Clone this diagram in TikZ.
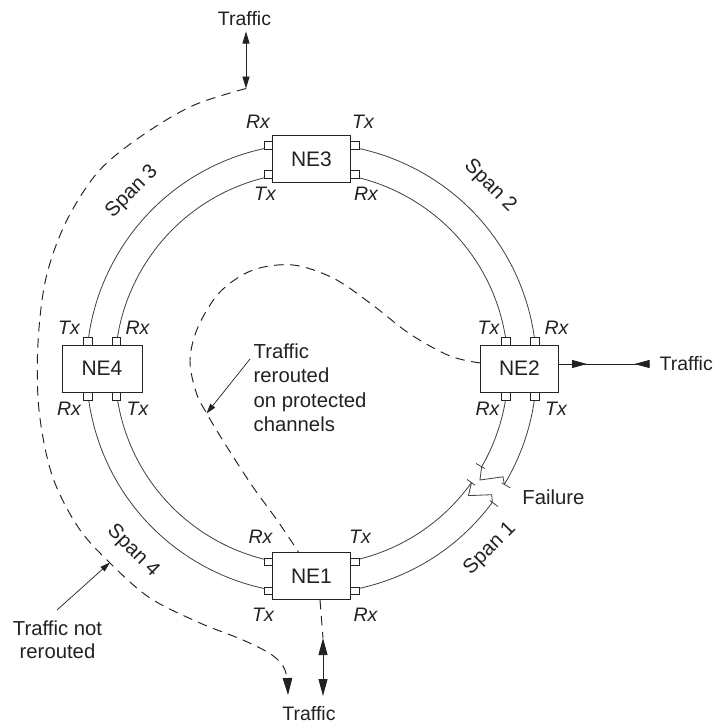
\documentclass[tikz,border=0pt]{standalone}
\usepackage{fontspec}
\setmainfont{Liberation Sans}
\usetikzlibrary{arrows.meta,calc}
\definecolor{ink}{HTML}{222222}
\definecolor{wire}{HTML}{404040}
\begin{document}
\begin{tikzpicture}[x=1pt,y=-1pt,
  lbl/.style={text=ink,inner sep=0pt,font=\fontsize{20.3}{24.5}\selectfont},
  trf/.style={text=ink,inner sep=0pt,font=\fontsize{19.5}{24}\selectfont},
  io/.style={text=ink,inner sep=0pt,font=\fontsize{19.5}{22}\selectfont\itshape},
  ne/.style={draw=ink,line width=1pt,fill=white,minimum width=78pt,minimum height=47pt,inner sep=0pt,text=ink,font=\fontsize{21}{24}\selectfont},
  nev/.style={ne,minimum width=80pt},
  port/.style={draw=ink,line width=0.8pt,fill=white,minimum width=8.5pt,minimum height=7.5pt,inner sep=0pt},
  vport/.style={port,minimum width=8.5pt,minimum height=8pt},
  ring/.style={draw=wire,line width=0.8pt},
  dline/.style={draw=ink,line width=0.95pt,dash pattern=on 9.5pt off 6.5pt},
  arr/.style={draw=ink,line width=0.9pt},
]
\useasboundingbox (0,0) rectangle (713,724);
\fill[white] (0,0) rectangle (713,724);
\coordinate (C) at (311.5,368.5);

% rings with the break
\draw[ring] ($(C)+(-30:196.5pt)$) arc[start angle=-30,end angle=324.5,radius=196.5pt];
\draw[ring] ($(C)+(-31:225pt)$) arc[start angle=-31,end angle=323.5,radius=225pt];
\draw[ring] ($(C)+(-30:196.5pt)$) -- ($(C)+(-33.5:202pt)$) -- ($(C)+(-29.5:220pt)$) -- ($(C)+(-31:225pt)$);
\draw[ring] ($(C)+(-35.5:196.5pt)$) -- ($(C)+(-39:202pt)$) -- ($(C)+(-35:220pt)$) -- ($(C)+(-36.5:225pt)$);
\draw[ring] ($(C)+(-30:190pt)$) -- ($(C)+(-30:200pt)$);
\draw[ring] ($(C)+(-35.5:191pt)$) -- ($(C)+(-35.5:201pt)$);
\draw[ring] ($(C)+(-31:222pt)$) -- ($(C)+(-31:232pt)$);
\draw[ring] ($(C)+(-36.5:222pt)$) -- ($(C)+(-36.5:232pt)$);

% coordinates for traffic paths
\coordinate (ta1) at (246,31.5);
\coordinate (ta2) at (246,88.5);
\coordinate (tb) at (288,695);
\coordinate (r0) at (480.5,363);
\coordinate (r1) at (298.5,552);
\coordinate (n1b) at (320,600);
\coordinate (ba1) at (323,638);
\coordinate (ba2) at (323,696);
\coordinate (q1) at (558.5,364);
\coordinate (q2) at (650,364);
\coordinate (qa) at (587,364);
\coordinate (qb) at (634.5,364);
\coordinate (an1s) at (250,359);
\coordinate (an1e) at (206.5,413.5);
\coordinate (an2s) at (57,610);
\coordinate (an2e) at (110,562.5);

% traffic not rerouted (outer dashed path)
\draw[dline,-{Triangle[length=17pt,width=9.5pt]}] plot[smooth,tension=0.55] coordinates {(ta2) (192,106) (140,137) (98,172) (66,222) (46,278) (38,343) (39,410) (52,475) (78,527) (110,563) (150,598) (200,623) (243,640) (272,655) (285,670) (tb)};
% rerouted traffic
\draw[dline] plot[smooth,tension=0.55] coordinates {(r0) (450,356) (410,334) (370,303) (333,278) (293,265) (253,270) (220,292) (198,327) (190,360) (196,392) (207,414) (227,447) (253,487) (277,520) (r1)};
\draw[dline] (n1b) -- (ba1);

% traffic arrows
\draw[arr,{Triangle[length=12pt,width=7pt]}-{Triangle[length=12pt,width=7pt]}] (ta1) -- (ta2);
\draw[arr,{Triangle[length=17pt,width=9pt]}-{Triangle[length=17pt,width=9pt]}] (ba1) -- (ba2);
\draw[arr] (q1) -- (q2);
\draw[arr,-{Triangle[length=15pt,width=8pt]}] (q1) -- (qa);
\draw[arr,-{Triangle[length=15pt,width=8pt]}] (q2) -- (qb);

% annotation arrows
\draw[arr,line width=0.7pt,-{Triangle[length=10pt,width=6pt]}] (an1s) -- (an1e);
\draw[arr,line width=0.7pt,-{Triangle[length=10pt,width=6pt]}] (an2s) -- (an2e);

% network elements
\node[ne] (NE3) at (311.5,159) {NE3};
\node[nev] (NE4) at (102,368.5) {NE4};
\node[ne] (NE2) at (519.5,368.5) {NE2};
\node[ne] (NE1) at (311.5,576) {NE1};

% ports
\node[port] (p3a) at (268.25,145.5) {};
\node[port] (p3b) at (268.25,174.5) {};
\node[port] (p3c) at (354.75,145.5) {};
\node[port] (p3d) at (354.75,174.5) {};
\node[port] (p1a) at (268.25,562) {};
\node[port] (p1b) at (268.25,591) {};
\node[port] (p1c) at (354.75,562) {};
\node[port] (p1d) at (354.75,591) {};
\node[vport] (p4a) at (88,341) {};
\node[vport] (p4b) at (116.5,341) {};
\node[vport] (p4c) at (88,396) {};
\node[vport] (p4d) at (116.5,396) {};
\node[vport] (p2a) at (506,341) {};
\node[vport] (p2b) at (535,341) {};
\node[vport] (p2c) at (506,396) {};
\node[vport] (p2d) at (535,396) {};

% Rx / Tx labels
\node[io] (l3a) at (258,121.5) {Rx};
\node[io] (l3b) at (363,121.5) {Tx};
\node[io] (l3c) at (265,194) {Tx};
\node[io] (l3d) at (366,194) {Rx};
\node[io] (l4a) at (69,327.5) {Tx};
\node[io] (l4b) at (137.5,327.5) {Rx};
\node[io] (l4c) at (69,408.5) {Rx};
\node[io] (l4d) at (137.5,408.5) {Tx};
\node[io] (l2a) at (488.5,328) {Tx};
\node[io] (l2b) at (556.5,328) {Rx};
\node[io] (l2c) at (487.5,408.5) {Rx};
\node[io] (l2d) at (556,408.5) {Tx};
\node[io] (l1a) at (260.5,536.5) {Rx};
\node[io] (l1b) at (360,536.5) {Tx};
\node[io] (l1c) at (263,615) {Tx};
\node[io] (l1d) at (365.5,615) {Rx};

% span labels
\node[lbl,rotate=45] (s3) at (132,192) {Span 3};
\node[lbl,rotate=-45] (s2) at (490,186) {Span 2};
\node[lbl,rotate=45] (s1) at (490,549) {Span 1};
\node[lbl,rotate=-45] (s4) at (133,551) {Span 4};

% other text
\node[trf,anchor=base] (tTop) at (244.5,25) {Traffic};
\node[trf,anchor=base] (tBot) at (309,720.5) {Traffic};
\node[trf,anchor=base west] (tRight) at (659.5,370) {Traffic};
\node[lbl,anchor=base] (fail) at (553.5,504) {Failure};
\node[lbl,anchor=north west,align=left] (reroute) at (253.5,343.5) {Traffic\\rerouted\\on protected\\channels};
\node[lbl,anchor=north,align=center,font=\fontsize{20.3}{23.5}\selectfont] (notre) at (57.5,620.5) {Traffic not\\rerouted};
\end{tikzpicture}
\end{document}
